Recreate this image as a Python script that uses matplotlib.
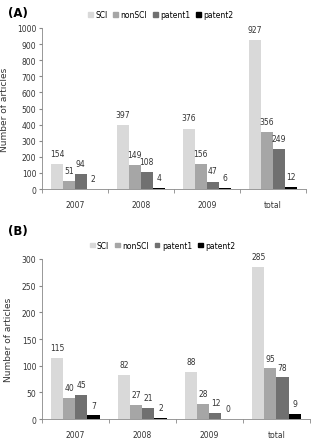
import numpy as np
import matplotlib.pyplot as plt
from matplotlib.patches import Patch

categories = ['2007', '2008', '2009', 'total']
series = ['SCI', 'nonSCI', 'patent1', 'patent2']
colors = ['#d9d9d9', '#a6a6a6', '#707070', '#000000']

# panel A
a_sci = [154, 397, 376, 927]
a_nonsci = [51, 149, 156, 356]
a_patent1 = [94, 108, 47, 249]
a_patent2 = [2, 4, 6, 12]

# panel B
b_sci = [115, 82, 88, 285]
b_nonsci = [40, 27, 28, 95]
b_patent1 = [45, 21, 12, 78]
b_patent2 = [7, 2, 0, 9]

plt.rcParams.update({'font.size': 5.5, 'font.family': 'DejaVu Sans'})
fig = plt.figure(figsize=(3.15, 4.39), dpi=100)


def panel(ax, data, ymax, step, off):
    x = np.arange(len(categories))
    w = 0.18
    for j, (name, vals) in enumerate(zip(series, data)):
        xs = x + (j - 1.5) * w
        ax.bar(xs, vals, width=w, color=colors[j], label=name)
        for xi, v in zip(xs, vals):
            ax.text(xi, v + off, str(v), ha='center', va='bottom', color='#333333', fontsize=5.5)
    ax.set_xlim(-0.5, len(categories) - 0.5)
    ax.set_ylim(0, ymax)
    ax.set_yticks(np.arange(0, ymax + 1, step))
    ax.set_xticks(x)
    ax.set_xticklabels(categories)
    ax.set_xticks(np.arange(-0.5, len(categories)), minor=True)
    ax.tick_params(axis='x', which='major', length=0, pad=8, colors='#333333')
    ax.tick_params(axis='x', which='minor', length=3, color='#888888')
    ax.tick_params(axis='y', length=2, color='#888888', colors='#333333', pad=2)
    for s in ['top', 'right']:
        ax.spines[s].set_visible(False)
    for s in ['left', 'bottom']:
        ax.spines[s].set_color('#888888')
        ax.spines[s].set_linewidth(0.6)
    ax.set_ylabel('Number of articles', fontsize=6.5, color='#333333', labelpad=6)
    handles = [Patch(color=c) for c in colors]
    ax.legend(handles, series, loc='lower center', bbox_to_anchor=(0.45, 1.0), ncol=4,
              frameon=False, handlelength=0.6, handleheight=0.6, handletextpad=0.3,
              columnspacing=0.8, fontsize=5.5, borderaxespad=0.8)


axA = fig.add_axes([0.133, 0.567, 0.838, 0.367])
panel(axA, [a_sci, a_nonsci, a_patent1, a_patent2], 1000, 100, 38)
axB = fig.add_axes([0.133, 0.043, 0.851, 0.365])
panel(axB, [b_sci, b_nonsci, b_patent1, b_patent2], 300, 50, 11)

fig.text(0.025, 0.985, '(A)', fontsize=8.5, fontweight='bold', va='top')
fig.text(0.025, 0.487, '(B)', fontsize=8.5, fontweight='bold', va='top')

fig.savefig('out.png', dpi=100)
